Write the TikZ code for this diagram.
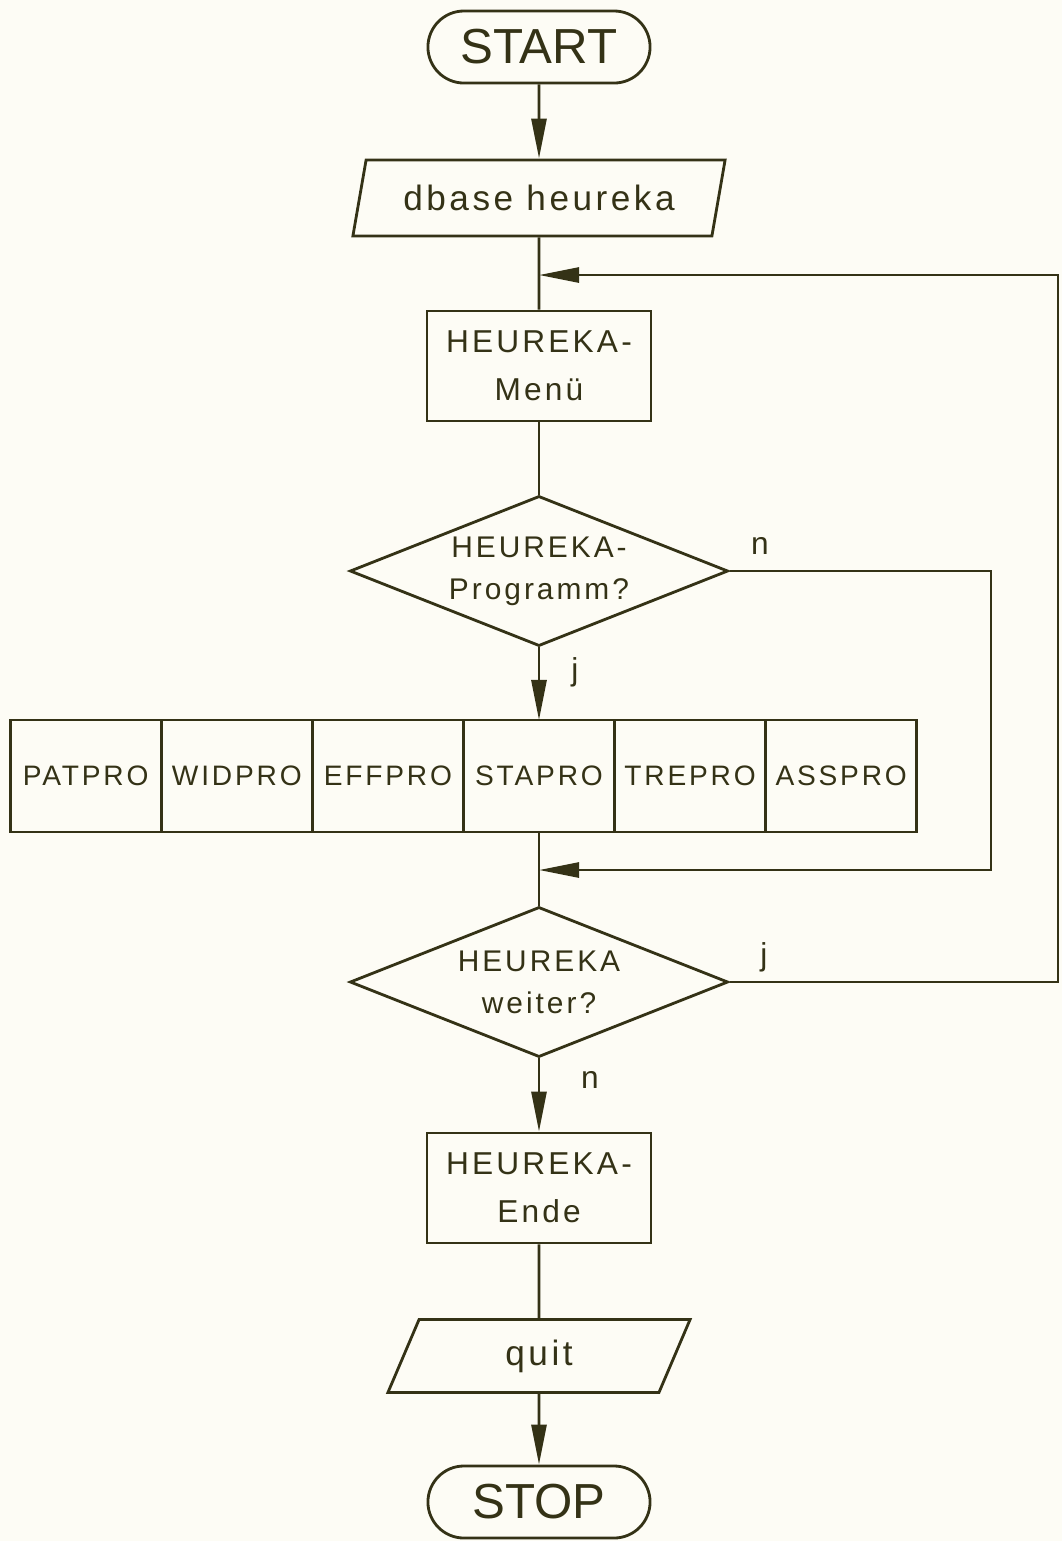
\documentclass[tikz,border=0pt]{standalone}
\usepackage{fontspec}
\setmainfont[LetterSpace=10]{Liberation Sans}
\newfontfamily\plainsf{Liberation Sans}
\usetikzlibrary{shapes.geometric}
\usetikzlibrary{arrows.meta}
\usetikzlibrary{positioning}
\definecolor{ink}{RGB}{52,50,22}
\definecolor{paper}{RGB}{253,252,245}

\begin{document}
\begin{tikzpicture}[x=0.01cm,y=-0.01cm,line width=0.8pt,color=ink,
  term/.style={draw,rounded corners=0.36cm,minimum width=2.22cm,minimum height=0.72cm,
    font=\plainsf\fontsize{14}{14}\selectfont},
  proc/.style={draw,minimum width=2.24cm,minimum height=1.1cm,align=center,
    font=\fontsize{9}{13.7}\selectfont},
  io/.style={draw,trapezium,trapezium left angle=75,trapezium right angle=105,
    trapezium stretches body,minimum width=3.72cm,minimum height=0.76cm,
    font=\fontsize{10}{12}\selectfont},
  dec/.style={draw,diamond,aspect=2.5,minimum width=3.78cm,minimum height=1.5cm,inner sep=0pt,
    align=center,font=\fontsize{8.5}{12}\selectfont},
  modul/.style={draw,minimum width=1.51cm,minimum height=1.12cm,inner sep=0pt,outer sep=0pt,
    font=\fontsize{8}{10}\selectfont},
  flow/.style={-{Triangle[length=0.4cm,width=0.15cm]}},
  lbl/.style={font=\fontsize{9}{10}\selectfont}]
\fill[paper] (0,0) rectangle (1062,1541);
\useasboundingbox (0,0) rectangle (1062,1541);

% main column
\node[term] (start) at (539,47) {START};
\node[io] (db) at (539,198) {dbase heureka};
\coordinate (j1) at (539,275);
\node[proc] (menu) at (539,366) {HEUREKA-\\Menü};
\node[dec] (p1) at (539,571) {HEUREKA-\\Programm?};

% program modules
\node[modul] (sta) at (539,776) {STAPRO};
\node[modul,left=0pt of sta] (eff) {EFFPRO};
\node[modul,left=0pt of eff] (wid) {WIDPRO};
\node[modul,left=0pt of wid] (pat) {PATPRO};
\node[modul,right=0pt of sta] (tre) {TREPRO};
\node[modul,right=0pt of tre] (ass) {ASSPRO};

\coordinate (j2) at (539,870);
\node[dec] (p2) at (539,982) {HEUREKA\\weiter?};
\node[proc] (ende) at (539,1188) {HEUREKA-\\Ende};
\node[io,trapezium left angle=61,trapezium right angle=119,minimum width=3.02cm,
  minimum height=0.73cm] (quit) at (539,1356) {quit};
\node[term] (stop) at (539,1502) {STOP};

\coordinate (r1) at (991,0);
\coordinate (r2) at (1058,0);
\node[lbl] (n1) at (760,546) {n};
\node[lbl] (y1) at (575,672) {j};
\node[lbl] (y2) at (764,957) {j};
\node[lbl] (n2) at (590,1080) {n};

% connectors
\draw[flow] (start) -- (db);
\draw (db) -- (j1) -- (menu);
\draw (menu) -- (p1);
\draw[flow] (p1) -- (sta);
\draw[flow] (p1.east) -| (r1 |- j2) -- (j2);
\draw (sta) -- (j2) -- (p2);
\draw[flow] (p2.east) -| (r2 |- j1) -- (j1);
\draw[flow] (p2) -- (ende);
\draw (ende) -- (quit);
\draw[flow] (quit) -- (stop);
\end{tikzpicture}
\end{document}
